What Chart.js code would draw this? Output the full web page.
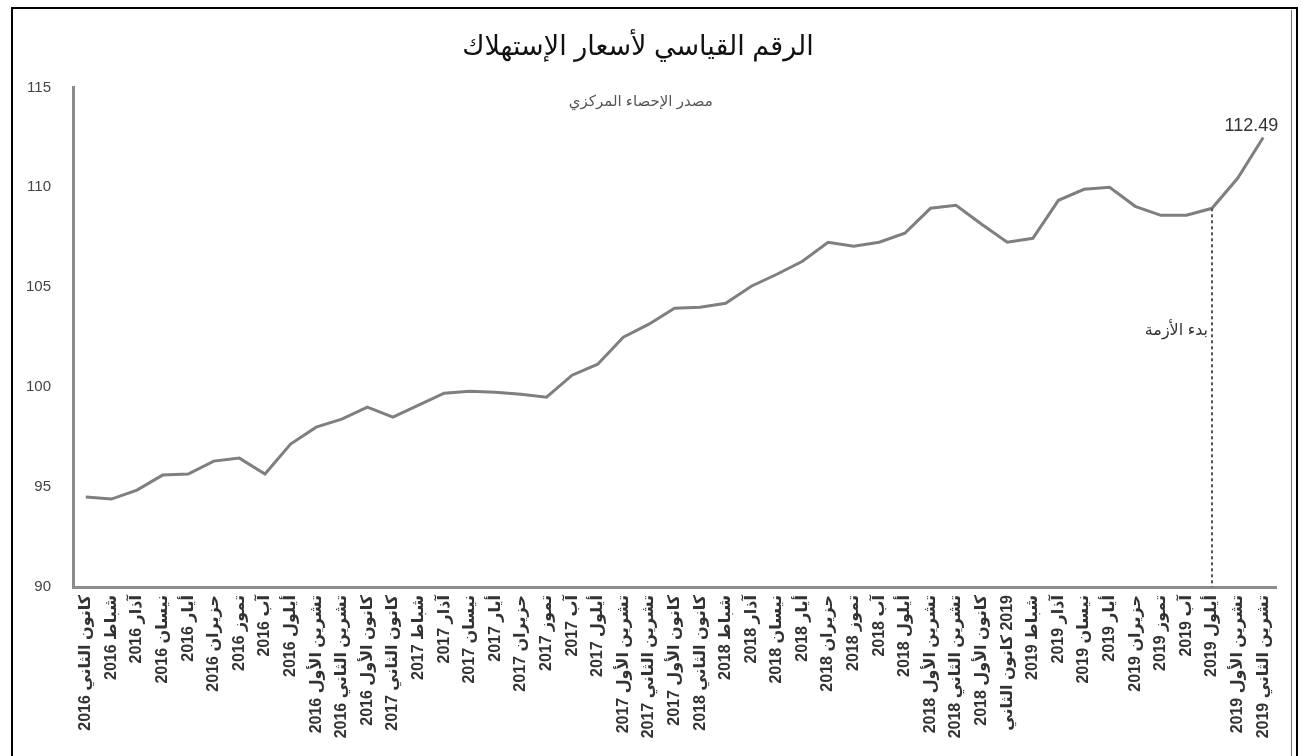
<!DOCTYPE html>
<html lang="ar">
<head>
<meta charset="UTF-8">
<title>الرقم القياسي لأسعار الإستهلاك</title>
<script src="https://cdn.jsdelivr.net/npm/chart.js"></script>
<style>
  html, body { margin: 0; padding: 0; background: #fff; overflow: hidden; }
  #wrap { position: relative; width: 1303px; height: 756px; }
</style>
</head>
<body>
<div id="wrap"><canvas id="cpiChart" dir="rtl"></canvas></div>
<script>
// months Jan 2016 .. Nov 2019
const labels = [
  'كانون الثاني 2016', 'شباط 2016', 'آذار 2016', 'نيسان 2016', 'أيار 2016', 'حزيران 2016',
  'تموز 2016', 'آب 2016', 'أيلول 2016', 'تشرين الأول 2016', 'تشرين الثاني 2016', 'كانون الأول 2016',
  'كانون الثاني 2017', 'شباط 2017', 'آذار 2017', 'نيسان 2017', 'أيار 2017', 'حزيران 2017',
  'تموز 2017', 'آب 2017', 'أيلول 2017', 'تشرين الأول 2017', 'تشرين الثاني 2017', 'كانون الأول 2017',
  'كانون الثاني 2018', 'شباط 2018', 'آذار 2018', 'نيسان 2018', 'أيار 2018', 'حزيران 2018',
  'تموز 2018', 'آب 2018', 'أيلول 2018', 'تشرين الأول 2018', 'تشرين الثاني 2018', 'كانون الأول 2018',
  '2019 كانون الثاني', 'شباط 2019', 'آذار 2019', 'نيسان 2019', 'أيار 2019', 'حزيران 2019',
  'تموز 2019', 'آب 2019', 'أيلول 2019', 'تشرين الأول 2019', 'تشرين الثاني 2019'
];

const cpi = [
  94.5, 94.4, 94.85, 95.6, 95.65, 96.3, 96.45, 95.65, 97.15, 98.0, 98.4, 99.0,
  98.5, 99.1, 99.7, 99.8, 99.75, 99.65, 99.5, 100.6, 101.15, 102.5, 103.15, 103.95,
  104.0, 104.2, 105.05, 105.65, 106.3, 107.25, 107.05, 107.25, 107.7, 108.95, 109.1, 108.15,
  107.25, 107.45, 109.35, 109.9, 110.0, 109.05, 108.6, 108.6, 108.95, 110.45, 112.49
];

const yTicks = [90, 95, 100, 105, 110, 115];

const chartTitle = 'الرقم القياسي لأسعار الإستهلاك';
const sourceNote = 'مصدر الإحصاء المركزي';
const crisisLabel = 'بدء الأزمة';
const crisisIndex = 44;   // أيلول 2019
const crisisLabelValue = 102.85;

const fontFam = "'Liberation Sans', Arial, 'DejaVu Sans', sans-serif";

const notes = {
  id: 'notes',
  afterDatasetsDraw(chart) {
    const { ctx, chartArea } = chart;
    const meta = chart.getDatasetMeta(0);
    const y = chart.scales.y;
    ctx.save();

    // source text
    ctx.fillStyle = '#555';
    ctx.font = '15px ' + fontFam;
    ctx.textAlign = 'center';
    ctx.textBaseline = 'middle';
    ctx.fillText(sourceNote, chartArea.left + (chartArea.right - chartArea.left) * 0.472, chartArea.top + 14);

    // last value label
    const last = meta.data[meta.data.length - 1];
    ctx.fillStyle = '#333';
    ctx.font = '18px ' + fontFam;
    ctx.textAlign = 'right';
    ctx.textBaseline = 'middle';
    ctx.direction = 'ltr';
    ctx.fillText(cpi[cpi.length - 1].toFixed(2), last.x + 15, last.y - 12);

    // crisis marker
    const p = meta.data[crisisIndex];
    ctx.strokeStyle = '#555';
    ctx.lineWidth = 2;
    ctx.setLineDash([3, 3]);
    ctx.beginPath();
    ctx.moveTo(p.x, p.y);
    ctx.lineTo(p.x, chartArea.bottom);
    ctx.stroke();
    ctx.setLineDash([]);
    ctx.direction = 'rtl';
    ctx.fillStyle = '#333';
    ctx.font = '16px ' + fontFam;
    ctx.textAlign = 'right';
    ctx.fillText(crisisLabel, p.x - 4, y.getPixelForValue(crisisLabelValue));
    ctx.restore();
  },
  afterDraw(chart) {
    const { ctx } = chart;
    ctx.save();
    ctx.strokeStyle = '#000';
    ctx.lineWidth = 2;
    ctx.strokeRect(12, 8, 1285, 760);
    ctx.strokeStyle = '#777';
    ctx.lineWidth = 1;
    ctx.beginPath();
    ctx.moveTo(1291.5, 10);
    ctx.lineTo(1291.5, 756);
    ctx.stroke();
    ctx.restore();
  }
};

new Chart(document.getElementById('cpiChart'), {
  type: 'line',
  data: {
    labels: labels,
    datasets: [{
      label: chartTitle,
      data: cpi,
      borderColor: '#7f7f7f',
      borderWidth: 3,
      pointRadius: 0,
      tension: 0,
      fill: false
    }]
  },
  options: {
    responsive: true,
    maintainAspectRatio: false,
    animation: false,
    layout: { padding: { top: 4, right: 27, bottom: 0, left: 0 } },
    plugins: {
      legend: { display: false },
      tooltip: { enabled: false },
      title: {
        display: true,
        text: chartTitle,
        color: '#111',
        font: { size: 27, weight: 'normal', family: fontFam },
        padding: { top: 27, bottom: 24 }
      }
    },
    scales: {
      x: {
        offset: true,
        grid: { display: false, drawTicks: false },
        border: { color: '#8c8c8c', width: 3 },
        ticks: {
          autoSkip: false,
          minRotation: 90,
          maxRotation: 90,
          padding: 8,
          color: '#333',
          font: { size: 16, weight: 'bold', family: fontFam }
        },
        afterFit(scale) { scale.height = 169; }
      },
      y: {
        min: 90,
        max: 115,
        grid: { display: false, drawTicks: false },
        border: { color: '#8c8c8c', width: 3 },
        afterBuildTicks(scale) { scale.ticks = yTicks.map(v => ({ value: v })); },
        ticks: {
          padding: 22,
          color: '#444',
          font: { size: 15, family: fontFam }
        },
        afterFit(scale) { scale.width = 73; }
      }
    }
  },
  plugins: [notes]
});
</script>
</body>
</html>
